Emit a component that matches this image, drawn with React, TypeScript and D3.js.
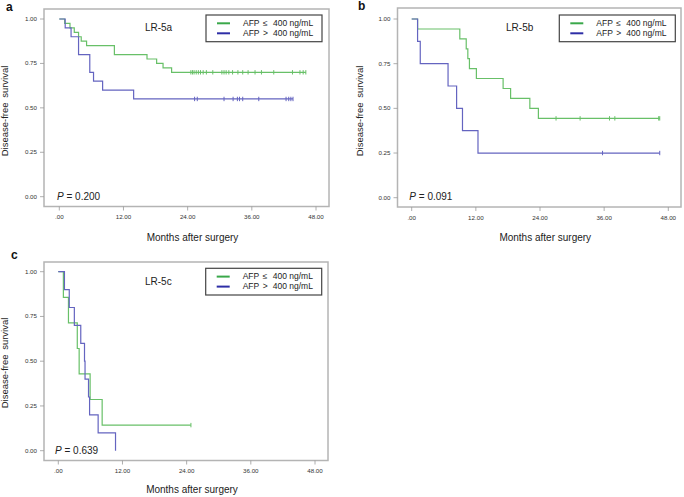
import React from "react";
import * as d3 from "d3";

// ---------- DATA ----------
const xTicks = [0, 12, 24, 36, 48];
const xTickLabels = [".00", "12.00", "24.00", "36.00", "48.00"];
const yTicks = [0, 0.25, 0.5, 0.75, 1];
const yTickLabels = ["0.00", "0.25", "0.50", "0.75", "1.00"];
const seriesNames = ["AFP", "AFP"];
const seriesOps = ["≤", ">"];
const seriesThresh = ["400 ng/mL", "400 ng/mL"];

// Panel a (LR-5a)
const aLowTimes = [1.0, 2.0, 2.8, 3.6, 4.1, 5.1, 10.3, 16.4, 18.2, 19.4, 21.0];
const aLowSurv = [0.975, 0.95, 0.925, 0.9, 0.875, 0.85, 0.8, 0.775, 0.75, 0.725, 0.7];
const aLowCensor = [24.6, 24.9, 25.2, 25.6, 26.0, 26.4, 26.9, 27.5, 28.7, 30.4, 30.8, 31.2, 31.7, 32.4, 33.4, 34.3, 35.3, 36.6, 37.8, 40.1, 43.6, 45.0, 45.6, 46.1];
const aHighTimes = [1.1, 2.2, 3.6, 5.7, 6.4, 8.1, 13.9];
const aHighSurv = [0.95, 0.9, 0.8, 0.7, 0.65, 0.6, 0.55];
const aHighCensor = [25.3, 25.8, 30.8, 32.5, 33.3, 33.7, 34.3, 37.3, 42.4, 42.9, 43.3, 43.7];

// Panel b (LR-5b)
const bLowTimes = [1.1, 9.0, 10.2, 10.5, 10.8, 12.1, 17.1, 18.5, 22.1, 23.7];
const bLowSurv = [0.944, 0.889, 0.833, 0.778, 0.722, 0.667, 0.611, 0.556, 0.5, 0.444];
const bLowCensor = [27.0, 31.5, 37.0, 38.0, 46.2, 46.4];
const bHighTimes = [1.1, 1.6, 6.8, 8.4, 9.5, 12.4];
const bHighSurv = [0.875, 0.75, 0.625, 0.5, 0.375, 0.25];
const bHighCensor = [35.7, 46.4];

// Panel c (LR-5c)
const cLowTimes = [0.95, 1.9, 3.55, 3.9, 5.95, 8.2];
const cLowSurv = [0.857, 0.714, 0.571, 0.429, 0.286, 0.143];
const cLowCensor = [24.8];
const cHighTimes = [1.15, 2.05, 3.0, 4.2, 4.9, 5.0, 5.65, 5.85, 7.45, 10.7];
const cHighSurv = [0.9, 0.8, 0.7, 0.6, 0.5, 0.4, 0.3, 0.2, 0.1, 0.0];
const cHighCensor: number[] = [];

const panelLetters = ["a", "b", "c"];
const panelTitles = ["LR-5a", "LR-5b", "LR-5c"];
const pValues = ["0.200", "0.091", "0.639"];

// ---------- STYLE ----------
const GREEN = "#68c068";
const BLUE = "#6464c0";
const GREEN_LEG = "#3aa84a";
const BLUE_LEG = "#2e2ea6";
const FONT = "Liberation Sans, Arial, sans-serif";

type Curve = { times: number[]; surv: number[]; censor: number[]; color: string };

type PanelCfg = {
  letter: string;
  title: string;
  p: string;
  frame: [number, number, number, number];
  xr: [number, number];
  yr: [number, number];
  letterPos: [number, number];
  titlePos: [number, number];
  pPos: [number, number];
  legend: [number, number];
  yTitle: [number, number];
  xTitleY: number;
  curves: Curve[];
};

function stepPoints(c: Curve): [number, number][] {
  const pts: [number, number][] = [[0, 1]];
  c.times.forEach((t, i) => pts.push([t, c.surv[i]]));
  const last = c.surv.length ? c.surv[c.surv.length - 1] : 1;
  const lastT = c.times.length ? c.times[c.times.length - 1] : 0;
  const end = c.censor.length ? Math.max(lastT, c.censor[c.censor.length - 1]) : lastT;
  pts.push([end, last]);
  return pts;
}

function survAt(c: Curve, t: number) {
  let s = 1;
  c.times.forEach((tt, i) => {
    if (tt <= t) s = c.surv[i];
  });
  return s;
}

function Panel({ cfg }: { cfg: PanelCfg }) {
  const [fl, ft, fr, fb] = cfg.frame;
  const x = d3.scaleLinear().domain([0, 48]).range(cfg.xr);
  const y = d3.scaleLinear().domain([0, 1]).range(cfg.yr);
  const line = d3
    .line<[number, number]>()
    .x((d) => x(d[0]))
    .y((d) => y(d[1]))
    .curve(d3.curveStepAfter);
  const [lx, ly] = cfg.legend;
  return (
    <g>
      <text x={cfg.letterPos[0]} y={cfg.letterPos[1]} fontFamily={FONT} fontWeight="bold" fontSize={12} fill="#111">
        {cfg.letter}
      </text>
      <rect x={fl} y={ft} width={fr - fl} height={fb - ft} fill="white" stroke="#b4b4b4" strokeWidth={1.5} />
      {yTicks.map((v, i) => (
        <g key={"y" + i}>
          <line x1={fl - 4} x2={fl} y1={y(v)} y2={y(v)} stroke="#999" strokeWidth={0.8} />
          <text x={fl - 7} y={y(v) + 2} textAnchor="end" fontFamily={FONT} fontSize={6.2} fill="#333">
            {yTickLabels[i]}
          </text>
        </g>
      ))}
      {xTicks.map((v, i) => (
        <g key={"x" + i}>
          <line x1={x(v)} x2={x(v)} y1={fb} y2={fb + 4} stroke="#999" strokeWidth={0.8} />
          <text x={x(v)} y={fb + 12.5} textAnchor="middle" fontFamily={FONT} fontSize={6.2} fill="#333">
            {xTickLabels[i]}
          </text>
        </g>
      ))}
      <text
        transform={`translate(${cfg.yTitle[0]},${cfg.yTitle[1]}) rotate(-90)`}
        textAnchor="middle"
        fontFamily={FONT}
        fontSize={9.5}
        wordSpacing={2}
        fill="#222"
      >
        Disease-free survival
      </text>
      <text x={(fl + fr) / 2 + 6} y={cfg.xTitleY} textAnchor="middle" fontFamily={FONT} fontSize={10} fill="#222">
        Months after surgery
      </text>
      {cfg.curves.map((c, k) => (
        <g key={"c" + k}>
          <path d={line(stepPoints(c)) || ""} fill="none" stroke={c.color} strokeWidth={1.2} />
          {c.censor.map((t, j) => (
            <line
              key={j}
              x1={x(t)}
              x2={x(t)}
              y1={y(survAt(c, t)) - 2.2}
              y2={y(survAt(c, t)) + 2.2}
              stroke={c.color}
              strokeWidth={1}
            />
          ))}
        </g>
      ))}
      <text x={cfg.titlePos[0]} y={cfg.titlePos[1]} textAnchor="middle" fontFamily={FONT} fontSize={10} fill="#222">
        {cfg.title}
      </text>
      <text x={cfg.pPos[0]} y={cfg.pPos[1]} fontFamily={FONT} fontSize={10} fill="#222">
        <tspan fontStyle="italic">P</tspan> = {cfg.p}
      </text>
      <rect x={lx} y={ly} width={116} height={26.7} fill="white" stroke="#444" strokeWidth={1.2} />
      {[0, 1].map((i) => (
        <g key={"l" + i}>
          <line
            x1={lx + 11}
            x2={lx + 24}
            y1={ly + 8.3 + i * 10}
            y2={ly + 8.3 + i * 10}
            stroke={i === 0 ? GREEN_LEG : BLUE_LEG}
            strokeWidth={2}
          />
          <text x={lx + 37} y={ly + 11 + i * 10} fontFamily={FONT} fontSize={8.5} fill="#222">
            {seriesNames[i]}
          </text>
          <text x={lx + 57} y={ly + 11 + i * 10} fontFamily={FONT} fontSize={8.5} fill="#222">
            {seriesOps[i]}
          </text>
          <text x={lx + 67} y={ly + 11 + i * 10} fontFamily={FONT} fontSize={8.5} fill="#222">
            {seriesThresh[i]}
          </text>
        </g>
      ))}
    </g>
  );
}

const panels: PanelCfg[] = [
  {
    letter: panelLetters[0],
    title: panelTitles[0],
    p: pValues[0],
    frame: [44, 9, 329, 206.5],
    xr: [59.3, 316],
    yr: [196.7, 19],
    letterPos: [6, 11],
    titlePos: [158.5, 30.5],
    pPos: [57, 200],
    legend: [206, 15],
    yTitle: [8, 111],
    xTitleY: 241,
    curves: [
      { times: aLowTimes, surv: aLowSurv, censor: aLowCensor, color: GREEN },
      { times: aHighTimes, surv: aHighSurv, censor: aHighCensor, color: BLUE },
    ],
  },
  {
    letter: panelLetters[1],
    title: panelTitles[1],
    p: pValues[1],
    frame: [397.5, 8, 681, 207],
    xr: [411.7, 668.3],
    yr: [197.7, 19],
    letterPos: [358, 9.5],
    titlePos: [519.7, 30.5],
    pPos: [409.3, 200],
    legend: [559.3, 15],
    yTitle: [363, 111],
    xTitleY: 241,
    curves: [
      { times: bLowTimes, surv: bLowSurv, censor: bLowCensor, color: GREEN },
      { times: bHighTimes, surv: bHighSurv, censor: bHighCensor, color: BLUE },
    ],
  },
  {
    letter: panelLetters[2],
    title: panelTitles[2],
    p: pValues[2],
    frame: [44, 262, 328, 460.5],
    xr: [58.3, 315],
    yr: [450.7, 271.7],
    letterPos: [11, 258.5],
    titlePos: [158.3, 285],
    pPos: [55, 453.5],
    legend: [205.7, 268.3],
    yTitle: [8, 363],
    xTitleY: 493,
    curves: [
      { times: cLowTimes, surv: cLowSurv, censor: cLowCensor, color: GREEN },
      { times: cHighTimes, surv: cHighSurv, censor: cHighCensor, color: BLUE },
    ],
  },
];

export default function App() {
  return (
    <svg
      width={684}
      height={497}
      viewBox="0 0 684 497"
      style={{ position: "absolute", left: 0, top: 0, background: "white" }}
    >
      <rect x={0} y={0} width={684} height={497} fill="white" />
      {panels.map((p, i) => (
        <Panel key={i} cfg={p} />
      ))}
    </svg>
  );
}
